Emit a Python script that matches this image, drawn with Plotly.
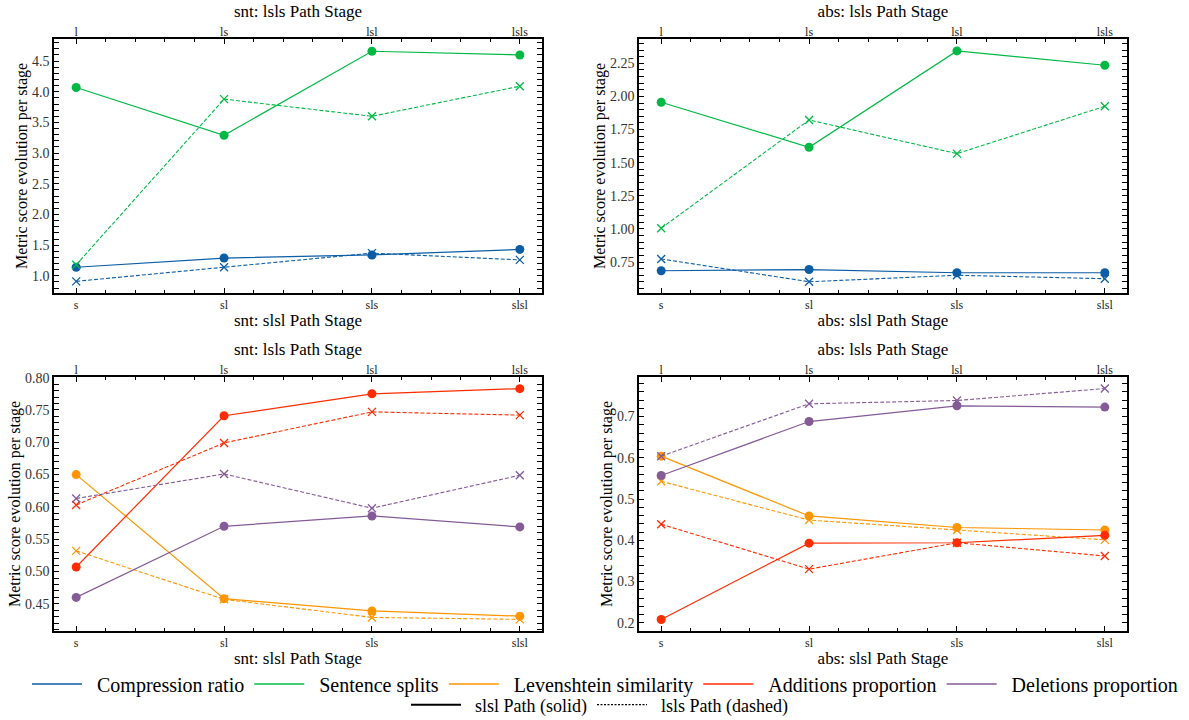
import plotly.graph_objects as go

stages_bottom = ["s", "sl", "sls", "slsl"]
stages_top = ["l", "ls", "lsl", "lsls"]

metric_names = ["Compression ratio", "Sentence splits", "Levenshtein similarity",
                "Additions proportion", "Deletions proportion"]
metric_colors = ["#0C5DA5", "#00B945", "#FF9500", "#FF2C00", "#845B97"]

# snt panel (top-left)
snt_cr_slsl = [1.14, 1.29, 1.34, 1.43]
snt_cr_lsls = [0.91, 1.14, 1.37, 1.26]
snt_ss_slsl = [4.07, 3.29, 4.66, 4.60]
snt_ss_lsls = [1.18, 3.88, 3.60, 4.09]
# abs panel (top-right)
abs_cr_slsl = [0.684, 0.693, 0.669, 0.669]
abs_cr_lsls = [0.773, 0.601, 0.650, 0.624]
abs_ss_slsl = [1.956, 1.616, 2.343, 2.235]
abs_ss_lsls = [1.005, 1.822, 1.568, 1.925]
# snt panel (bottom-left)
snt_lev_slsl = [0.650, 0.458, 0.439, 0.431]
snt_lev_lsls = [0.532, 0.457, 0.429, 0.426]
snt_add_slsl = [0.507, 0.741, 0.775, 0.783]
snt_add_lsls = [0.603, 0.699, 0.747, 0.742]
snt_del_slsl = [0.460, 0.570, 0.586, 0.569]
snt_del_lsls = [0.613, 0.651, 0.598, 0.649]
# abs panel (bottom-right)
abs_lev_slsl = [0.604, 0.459, 0.431, 0.425]
abs_lev_lsls = [0.543, 0.449, 0.425, 0.401]
abs_add_slsl = [0.208, 0.393, 0.394, 0.412]
abs_add_lsls = [0.439, 0.330, 0.394, 0.362]
abs_del_slsl = [0.557, 0.688, 0.726, 0.723]
abs_del_lsls = [0.604, 0.731, 0.739, 0.768]

FONT = "Liberation Serif"
xpos = list(range(len(stages_bottom)))

panels = [
    dict(prefix="snt", yr=[0.72, 4.86], dtick=0.5, tick0=1.0, minor=0.1, fmt=".1f",
         series=[(0, snt_cr_slsl, snt_cr_lsls), (1, snt_ss_slsl, snt_ss_lsls)],
         xd=[54/1189, 542/1189], yd=[1-293/720, 1-39/720]),
    dict(prefix="abs", yr=[0.516, 2.433], dtick=0.25, tick0=0.75, minor=0.05, fmt=".2f",
         series=[(0, abs_cr_slsl, abs_cr_lsls), (1, abs_ss_slsl, abs_ss_lsls)],
         xd=[639/1189, 1127/1189], yd=[1-293/720, 1-39/720]),
    dict(prefix="snt", yr=[0.408, 0.801], dtick=0.05, tick0=0.45, minor=0.01, fmt=".2f",
         series=[(2, snt_lev_slsl, snt_lev_lsls), (3, snt_add_slsl, snt_add_lsls),
                 (4, snt_del_slsl, snt_del_lsls)],
         xd=[54/1189, 542/1189], yd=[1-631/720, 1-377/720]),
    dict(prefix="abs", yr=[0.18, 0.796], dtick=0.1, tick0=0.2, minor=0.02, fmt=".1f",
         series=[(2, abs_lev_slsl, abs_lev_lsls), (3, abs_add_slsl, abs_add_lsls),
                 (4, abs_del_slsl, abs_del_lsls)],
         xd=[639/1189, 1127/1189], yd=[1-631/720, 1-377/720]),
]

fig = go.Figure()
layout = {}
xr = [-0.15, 3.15]
for i, p in enumerate(panels):
    xb = 2 * i + 1
    xt = 2 * i + 2
    yi = i + 1
    xb_ref = "x" if xb == 1 else f"x{xb}"
    xt_ref = f"x{xt}"
    y_ref = "y" if yi == 1 else f"y{yi}"
    for (mi, solid, dashed) in p["series"]:
        c = metric_colors[mi]
        fig.add_trace(go.Scatter(x=xpos, y=solid, mode="lines+markers", xaxis=xb_ref, yaxis=y_ref,
                                 line=dict(color=c, width=1.2),
                                 marker=dict(symbol="circle", size=9, color=c),
                                 showlegend=False, hoverinfo="skip"))
        fig.add_trace(go.Scatter(x=xpos, y=dashed, mode="lines+markers", xaxis=xb_ref, yaxis=y_ref,
                                 line=dict(color=c, width=1.1, dash="4px,2px"),
                                 marker=dict(symbol="x-thin", size=8, color=c,
                                             line=dict(color=c, width=1.3)),
                                 showlegend=False, hoverinfo="skip"))
    fig.add_trace(go.Scatter(x=[None], y=[None], xaxis=xt_ref, yaxis=y_ref,
                             showlegend=False, hoverinfo="skip"))
    xb_key = "xaxis" if xb == 1 else f"xaxis{xb}"
    yk = "yaxis" if yi == 1 else f"yaxis{yi}"
    layout[xb_key] = dict(domain=p["xd"], anchor=y_ref, range=xr, tickmode="array",
                          tickvals=xpos, ticktext=stages_bottom, ticks="inside", ticklen=5,
                          tickwidth=1, tickcolor="black", showline=True, linecolor="black",
                          linewidth=1.5, mirror=True, showgrid=False, zeroline=False,
                          automargin=False,
                          tickfont=dict(family=FONT, size=12, color="#222"),
                          minor=dict(tickmode="linear", tick0=0, dtick=0.2, ticks="inside",
                                     ticklen=3, tickcolor="black", showgrid=False),
                          title=dict(text=f"{p['prefix']}: slsl Path Stage",
                                     font=dict(family=FONT, size=17, color="black"), standoff=3))
    layout[f"xaxis{xt}"] = dict(overlaying=xb_ref, anchor=y_ref, side="top", range=xr,
                                tickmode="array", tickvals=xpos, ticktext=stages_top,
                                ticks="inside", ticklen=5, tickwidth=1, tickcolor="black",
                                showline=False, showgrid=False, zeroline=False,
                                automargin=False,
                                tickfont=dict(family=FONT, size=12, color="#222"),
                                minor=dict(tickmode="linear", tick0=0, dtick=0.2, ticks="inside",
                                           ticklen=3, tickcolor="black", showgrid=False),
                                title=dict(text=f"{p['prefix']}: lsls Path Stage",
                                           font=dict(family=FONT, size=17, color="black"),
                                           standoff=2))
    layout[yk] = dict(domain=p["yd"], anchor=xb_ref, range=p["yr"], tickmode="linear",
                      tick0=p["tick0"], dtick=p["dtick"], tickformat=p["fmt"], ticks="inside",
                      ticklen=5, tickwidth=1, tickcolor="black", showline=True,
                      linecolor="black", linewidth=1.5, mirror="allticks", showgrid=False,
                      zeroline=False, automargin=False,
                      tickfont=dict(family=FONT, size=14, color="#333"),
                      minor=dict(tickmode="linear", tick0=p["tick0"], dtick=p["minor"],
                                 ticks="inside", ticklen=3, tickcolor="black", showgrid=False),
                      title=dict(text="Metric score evolution per stage",
                                 font=dict(family=FONT, size=16, color="black"), standoff=0))

NB = "\u00a0\u00a0"
# legend entries
for name, c in zip(metric_names, metric_colors):
    fig.add_trace(go.Scatter(x=[None], y=[None], mode="lines", name=NB + name,
                             line=dict(color=c, width=1.5), legend="legend"))
fig.add_trace(go.Scatter(x=[None], y=[None], mode="lines", name=NB + "slsl Path (solid)",
                         line=dict(color="black", width=2), legend="legend2"))
fig.add_trace(go.Scatter(x=[None], y=[None], mode="lines", name=NB + "lsls Path (dashed)",
                         line=dict(color="black", width=1.2, dash="2px,1.5px"), legend="legend2"))

fig.update_layout(
    width=1189, height=720,
    margin=dict(l=0, r=0, t=0, b=0, autoexpand=False),
    paper_bgcolor="white", plot_bgcolor="white",
    font=dict(family=FONT, color="black"),
    legend=dict(orientation="h", x=605/1189, xanchor="center", y=1-684/720, yanchor="middle",
                font=dict(family=FONT, size=20, color="black"), itemwidth=50,
                bgcolor="rgba(0,0,0,0)"),
    legend2=dict(orientation="h", x=600/1189, xanchor="center", y=1-705/720, yanchor="middle",
                 font=dict(family=FONT, size=18, color="black"), itemwidth=50,
                 bgcolor="rgba(0,0,0,0)"),
    **layout,
)

fig.write_html("out.html", config={"displayModeBar": False},
               post_script="document.body.style.margin='0';")
